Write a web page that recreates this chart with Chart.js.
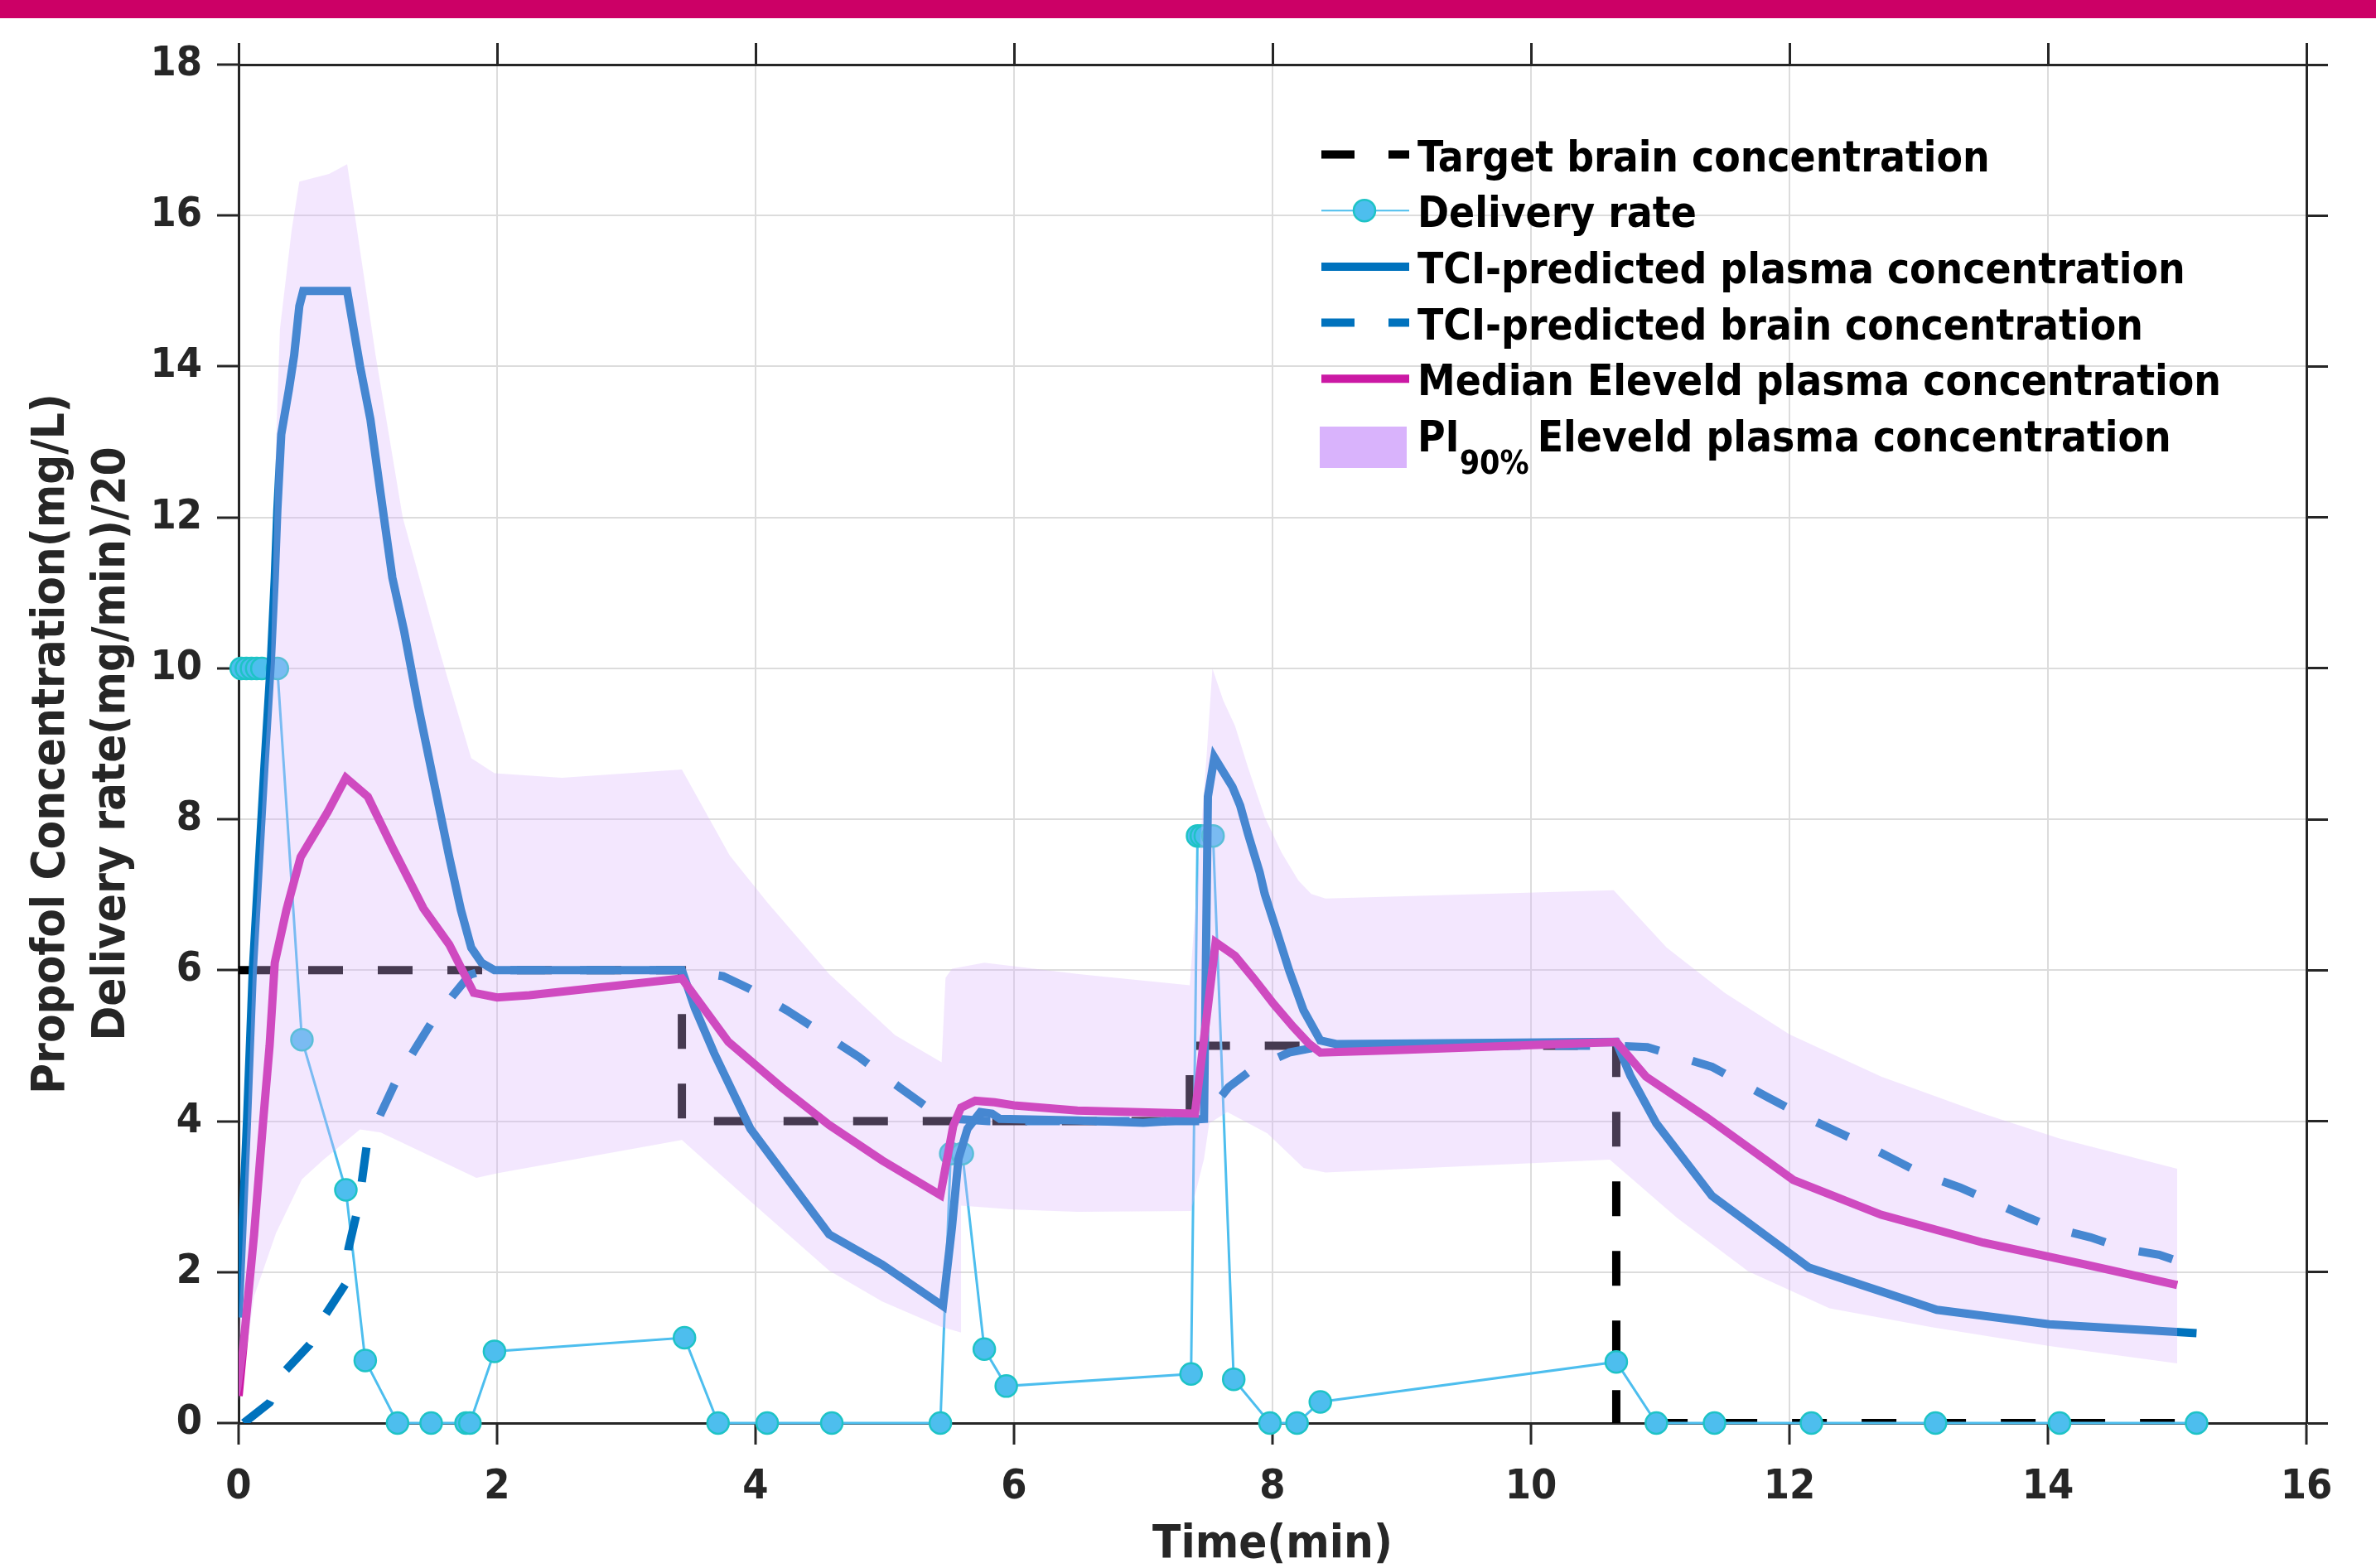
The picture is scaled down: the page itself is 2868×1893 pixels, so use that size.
<!DOCTYPE html>
<html>
<head>
<meta charset="utf-8">
<script src="https://cdn.jsdelivr.net/npm/chart.js@4.4.1/dist/chart.umd.min.js"></script>
<style>
    html, body { margin: 0; padding: 0; background: #fff; }
    #wrap { position: relative; width: 2868px; height: 1893px; overflow: hidden; }
    #chart { position: absolute; left: 0; top: 0; }
    #topbar { position: absolute; left: 0; top: 0; width: 2868px; height: 22px; background: #cc0066; }
</style>
</head>
<body>
<div id="wrap">
    <canvas id="chart" width="2868" height="1893"></canvas>
    <div id="topbar"></div>
</div>
<script>
// Target brain concentration (mg/L)
const targetTime = [0, 3.43, 3.43, 7.36, 7.36, 10.66, 10.66, 15.1];
const targetConc = [6, 6, 4, 4, 5, 5, 0, 0];

// Delivery rate, (mg/min)/20
const deliveryTime = [0.02, 0.06, 0.10, 0.14, 0.18, 0.30, 0.49, 0.83, 0.98, 1.23, 1.49, 1.76, 1.79, 1.98, 3.45, 3.71, 4.09, 4.59, 5.43, 5.51, 5.60, 5.77, 5.94, 7.37, 7.42, 7.45, 7.48, 7.54, 7.70, 7.98, 8.19, 8.37, 10.66, 10.97, 11.42, 12.17, 13.13, 14.09, 15.15];
const deliveryRate = [10, 10, 10, 10, 10, 10, 5.08, 3.09, 0.83, 0, 0, 0, 0, 0.95, 1.13, 0, 0, 0, 0, 3.57, 3.57, 0.98, 0.49, 0.65, 7.78, 7.78, 7.78, 7.78, 0.58, 0, 0, 0.28, 0.81, 0, 0, 0, 0, 0, 0];

// TCI-predicted plasma concentration
const plasmaTime = [0, 0.065, 0.11, 0.20, 0.25, 0.28, 0.30, 0.33, 0.39, 0.43, 0.47, 0.50, 0.84, 0.86, 0.94, 1.02, 1.10, 1.19, 1.28, 1.39, 1.51, 1.63, 1.72, 1.80, 1.88, 1.98, 3.43, 3.53, 3.68, 3.96, 4.09, 4.57, 4.98, 5.45, 5.52, 5.57, 5.64, 5.74, 5.83, 5.89, 6.5, 7.0, 7.47, 7.50, 7.55, 7.69, 7.75, 7.81, 7.90, 7.94, 8.03, 8.13, 8.24, 8.37, 8.5, 10.66, 10.77, 10.97, 11.40, 12.15, 13.14, 14.01, 15.15];
const plasmaConc = [1.4, 4.0, 6.0, 8.7, 10.1, 11.2, 12.1, 13.1, 13.7, 14.15, 14.8, 15.0, 15.0, 14.8, 14.0, 13.3, 12.3, 11.2, 10.5, 9.5, 8.5, 7.5, 6.8, 6.3, 6.1, 6.0, 6.0, 5.5, 4.9, 3.9, 3.6, 2.5, 2.1, 1.55, 2.6, 3.5, 3.9, 4.12, 4.10, 4.03, 4.01, 3.98, 4.03, 8.3, 8.82, 8.43, 8.18, 7.81, 7.30, 7.01, 6.53, 5.99, 5.47, 5.07, 5.02, 5.05, 4.6, 3.97, 3.01, 2.06, 1.50, 1.31, 1.19];

// TCI-predicted brain concentration
const brainTime = [0.04, 0.24, 0.36, 0.55, 0.67, 0.83, 0.85, 0.93, 0.99, 1.04, 1.10, 1.22, 1.36, 1.49, 1.67, 1.79, 1.90, 3.43, 3.75, 3.96, 4.24, 4.45, 4.80, 5.12, 5.34, 5.55, 5.80, 7.45, 7.66, 7.86, 8.13, 8.40, 10.66, 10.90, 11.40, 11.84, 12.07, 12.33, 12.57, 12.80, 13.04, 13.32, 13.56, 13.81, 14.05, 14.33, 14.59, 14.86, 15.10];
const brainConc = [0, 0.27, 0.69, 1.04, 1.43, 1.85, 2.31, 2.9, 3.66, 3.85, 4.10, 4.54, 4.94, 5.30, 5.69, 5.94, 6.0, 6.0, 5.92, 5.75, 5.47, 5.24, 4.85, 4.44, 4.17, 4.03, 4.0, 4.0, 4.45, 4.71, 4.91, 5.0, 5.0, 4.98, 4.72, 4.31, 4.10, 3.89, 3.70, 3.50, 3.29, 3.12, 2.94, 2.75, 2.58, 2.46, 2.31, 2.23, 2.09];

// Median Eleveld plasma concentration
const medianTime = [0, 0.12, 0.19, 0.24, 0.28, 0.37, 0.48, 0.69, 0.83, 1.00, 1.19, 1.43, 1.63, 1.82, 2.00, 2.25, 3.43, 3.79, 4.20, 4.57, 4.98, 5.43, 5.53, 5.59, 5.70, 5.85, 6.00, 6.49, 7.40, 7.56, 7.71, 7.86, 8.01, 8.16, 8.28, 8.37, 8.92, 10.66, 10.89, 11.36, 12.03, 12.71, 13.50, 14.29, 15.00];
const medianConc = [0.36, 2.5, 4.0, 5.0, 6.1, 6.8, 7.5, 8.1, 8.55, 8.30, 7.63, 6.82, 6.34, 5.70, 5.64, 5.67, 5.89, 5.05, 4.45, 3.95, 3.48, 3.02, 3.94, 4.18, 4.27, 4.25, 4.21, 4.14, 4.10, 6.37, 6.19, 5.88, 5.55, 5.25, 5.03, 4.91, 4.94, 5.05, 4.59, 4.05, 3.22, 2.76, 2.39, 2.10, 1.83];

// PI90% Eleveld plasma concentration, upper and lower bounds
const piUpperTime = [0, 0.07, 0.11, 0.20, 0.25, 0.27, 0.29, 0.32, 0.41, 0.47, 0.70, 0.84, 0.90, 1.06, 1.27, 1.55, 1.80, 1.98, 2.50, 3.43, 3.80, 4.09, 4.57, 5.08, 5.44, 5.47, 5.52, 5.77, 6.50, 7.36, 7.49, 7.535, 7.62, 7.71, 7.81, 7.94, 8.07, 8.20, 8.30, 8.41, 10.64, 11.05, 11.50, 12.00, 12.71, 13.50, 14.09, 15.00];
const piUpperConc = [1.2, 4.0, 6.0, 8.7, 10.1, 11.5, 13.0, 14.5, 15.8, 16.45, 16.55, 16.68, 16.0, 14.15, 12.0, 10.26, 8.81, 8.61, 8.55, 8.66, 7.52, 6.9, 5.95, 5.14, 4.78, 5.9, 6.02, 6.1, 5.95, 5.80, 8.84, 10.0, 9.57, 9.24, 8.69, 8.03, 7.56, 7.19, 7.01, 6.95, 7.06, 6.3, 5.7, 5.15, 4.59, 4.10, 3.77, 3.37];
const piLowerTime = [0, 0.02, 0.12, 0.29, 0.49, 0.65, 0.94, 1.10, 1.84, 2.00, 3.43, 3.96, 4.57, 4.98, 5.43, 5.59, 5.59, 6.00, 6.49, 7.37, 7.47, 7.51, 7.65, 7.96, 8.24, 8.41, 10.61, 11.13, 11.68, 12.31, 13.10, 14.01, 15.00];
const piLowerConc = [0.3, 0.45, 1.68, 2.52, 3.23, 3.48, 3.89, 3.85, 3.25, 3.31, 3.75, 2.94, 2.02, 1.61, 1.28, 1.2, 2.88, 2.83, 2.80, 2.81, 3.5, 3.97, 4.12, 3.84, 3.38, 3.32, 3.49, 2.72, 2.01, 1.52, 1.27, 1.02, 0.79];

// Axis ticks
const xTicks = [0, 2, 4, 6, 8, 10, 12, 14, 16];
const yTicks = [0, 2, 4, 6, 8, 10, 12, 14, 16, 18];

const FONT = "'DejaVu Sans Condensed', 'DejaVu Sans', sans-serif";
const INK = '#262626';
const GRID = '#dcdcdc';

const pts = (xs, ys) => xs.map((x, i) => ({ x: x, y: ys[i] }));

// closed outline: along the upper bound, back along the lower bound
const piShape = pts(piUpperTime, piUpperConc).concat(pts(piLowerTime, piLowerConc).reverse());

// Legend drawn inside the plot area, like the MATLAB one
const legendRows = [
    { text: 'Target brain concentration', type: 'dash', color: '#000000' },
    { text: 'Delivery rate', type: 'marker', color: '#4dbeee' },
    { text: 'TCI-predicted plasma concentration', type: 'solid', color: '#0072bd' },
    { text: 'TCI-predicted brain concentration', type: 'dash', color: '#0072bd' },
    { text: 'Median Eleveld plasma concentration', type: 'solid', color: '#cb19a4' },
    { text: 'Eleveld plasma concentration', type: 'patch', color: '#d9b3fc' }
];

const insideLegend = {
    id: 'insideLegend',
    afterDraw(chart) {
        const ctx = chart.ctx;
        const sx0 = 1595, sx1 = 1701, tx = 1711;
        ctx.save();
        ctx.textBaseline = 'alphabetic';
        ctx.textAlign = 'left';
        legendRows.forEach((row, i) => {
            const base = 206.5 + i * 67.7;
            const ly = base - 20;
            ctx.setLineDash([]);
            if (row.type === 'solid' || row.type === 'dash') {
                ctx.strokeStyle = row.color;
                ctx.lineWidth = 10;
                ctx.setLineDash(row.type === 'dash' ? [40, 41] : []);
                ctx.beginPath();
                ctx.moveTo(sx0, ly);
                ctx.lineTo(sx1, ly);
                ctx.stroke();
            } else if (row.type === 'marker') {
                ctx.strokeStyle = row.color;
                ctx.lineWidth = 2;
                ctx.beginPath();
                ctx.moveTo(sx0, ly);
                ctx.lineTo(sx1, ly);
                ctx.stroke();
                ctx.beginPath();
                ctx.arc(1647, ly, 13, 0, Math.PI * 2);
                ctx.fillStyle = '#4dbeee';
                ctx.fill();
                ctx.strokeStyle = '#1ec3c6';
                ctx.lineWidth = 2.5;
                ctx.stroke();
            } else {
                ctx.fillStyle = row.color;
                ctx.fillRect(1593, base - 30, 105, 50);
            }
            ctx.fillStyle = '#000';
            ctx.font = `bold 51px ${FONT}`;
            if (row.type === 'patch') {
                ctx.fillText('PI', tx, base);
                let x = tx + ctx.measureText('PI').width;
                ctx.font = `bold 39px ${FONT}`;
                ctx.fillText('90%', x, base + 26.5);
                x += ctx.measureText('90%').width + 10;
                ctx.font = `bold 51px ${FONT}`;
                ctx.fillText(row.text, x, base);
            } else {
                ctx.fillText(row.text, tx, base);
            }
        });
        ctx.restore();
    }
};

const tickFont = { size: 50, weight: 'bold', family: FONT };
const sideGrid = { drawOnChartArea: false, tickColor: INK, tickWidth: 3, tickLength: 26 };

new Chart(document.getElementById('chart'), {
    type: 'line',
    data: {
        datasets: [
            {
                label: 'PI90% Eleveld plasma concentration',
                data: piShape,
                fill: 'shape',
                backgroundColor: 'rgba(217,179,252,0.32)',
                borderWidth: 0,
                pointRadius: 0,
                order: 0
            },
            {
                label: 'Median Eleveld plasma concentration',
                data: pts(medianTime, medianConc),
                borderColor: '#cb19a4',
                borderWidth: 10,
                pointRadius: 0,
                order: 1
            },
            {
                label: 'TCI-predicted plasma concentration',
                data: pts(plasmaTime, plasmaConc),
                borderColor: '#0072bd',
                borderWidth: 10,
                pointRadius: 0,
                order: 2
            },
            {
                label: 'TCI-predicted brain concentration',
                data: pts(brainTime, brainConc),
                borderColor: '#0072bd',
                borderWidth: 10,
                borderDash: [42, 42],
                pointRadius: 0,
                order: 3
            },
            {
                label: 'Delivery rate',
                data: pts(deliveryTime, deliveryRate),
                borderColor: '#4dbeee',
                borderWidth: 3,
                pointRadius: 13,
                pointBackgroundColor: '#4dbeee',
                pointBorderColor: '#1ec3c6',
                pointBorderWidth: 2.5,
                clip: false,
                order: 4
            },
            {
                label: 'Target brain concentration',
                data: pts(targetTime, targetConc),
                borderColor: '#000000',
                borderWidth: 10,
                borderDash: [42, 42],
                pointRadius: 0,
                order: 5
            }
        ]
    },
    options: {
        responsive: false,
        animation: false,
        events: [],
        layout: { padding: 0 },
        plugins: {
            legend: { display: false },
            tooltip: { enabled: false }
        },
        scales: {
            x: {
                type: 'linear',
                position: 'bottom',
                min: xTicks[0],
                max: xTicks[xTicks.length - 1],
                afterBuildTicks: s => { s.ticks = xTicks.map(v => ({ value: v })); },
                ticks: { color: INK, padding: 22, maxRotation: 0, font: tickFont },
                grid: { color: GRID, lineWidth: 2, tickColor: INK, tickWidth: 3, tickLength: 26 },
                border: { color: INK, width: 3 },
                title: {
                    display: true,
                    text: 'Time(min)',
                    color: INK,
                    padding: 0,
                    font: { size: 56, weight: 'bold', family: FONT, lineHeight: 1 }
                },
                afterFit: s => { s.height = 175; }
            },
            x2: {
                type: 'linear',
                position: 'top',
                display: true,
                min: xTicks[0],
                max: xTicks[xTicks.length - 1],
                afterBuildTicks: s => { s.ticks = xTicks.map(v => ({ value: v })); },
                ticks: { display: false },
                grid: sideGrid,
                border: { color: INK, width: 3 },
                afterFit: s => { s.height = 78; }
            },
            y: {
                type: 'linear',
                position: 'left',
                min: yTicks[0],
                max: yTicks[yTicks.length - 1],
                afterBuildTicks: s => { s.ticks = yTicks.map(v => ({ value: v })); },
                ticks: { color: INK, padding: 18, font: tickFont },
                grid: { color: GRID, lineWidth: 2, tickColor: INK, tickWidth: 3, tickLength: 26 },
                border: { color: INK, width: 3 },
                title: {
                    display: true,
                    text: ['Propofol Concentration(mg/L)', 'Delivery rate(mg/min)/20'],
                    color: INK,
                    padding: { top: 25, bottom: 0 },
                    font: { size: 56, weight: 'bold', family: FONT, lineHeight: 1.32 }
                },
                afterFit: s => { s.width = 288; }
            },
            y2: {
                type: 'linear',
                position: 'right',
                display: true,
                min: yTicks[0],
                max: yTicks[yTicks.length - 1],
                afterBuildTicks: s => { s.ticks = yTicks.map(v => ({ value: v })); },
                ticks: { display: false },
                grid: sideGrid,
                border: { color: INK, width: 3 },
                afterFit: s => { s.width = 84; }
            }
        }
    },
    plugins: [insideLegend]
});
</script>
</body>
</html>
